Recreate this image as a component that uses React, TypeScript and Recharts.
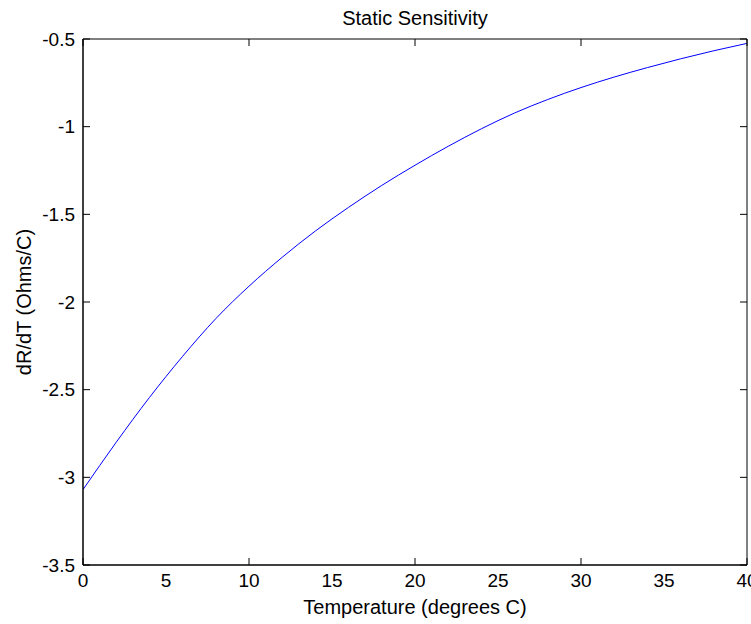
import React from 'react';
import { LineChart, Line, XAxis, YAxis } from 'recharts';

const temperatures = [0, 2, 4, 6, 8, 10, 12, 14, 16, 18, 20, 22, 24, 26, 28, 30, 32, 34, 36, 38, 40];
const sensitivity = [-3.07, -2.8, -2.545, -2.31, -2.095, -1.91, -1.745, -1.595, -1.46, -1.335, -1.22, -1.112, -1.012, -0.922, -0.845, -0.777, -0.717, -0.663, -0.613, -0.567, -0.525];
const xTicks = [0, 5, 10, 15, 20, 25, 30, 35, 40];
const yTicks = [-3.5, -3, -2.5, -2, -1.5, -1, -0.5];

const data = temperatures.map((t, i) => ({ t, v: sensitivity[i] }));

const FONT = '"Liberation Sans", Arial, sans-serif';
const tickStyle = { fill: '#000', fontSize: 19, fontFamily: FONT };
const labelStyle = { fill: '#000', fontSize: 20, fontFamily: FONT };
const NoLabel = () => <g />;

export default function App() {
  return (
    <div style={{ position: 'absolute', left: 0, top: 0, width: 751, height: 624, background: '#fff' }}>
      <LineChart width={751} height={624} data={data} margin={{ top: 39, right: 4, bottom: 0, left: 0 }}>
        {/* label axes */}
        <XAxis
          dataKey="t"
          type="number"
          domain={[0, 40]}
          ticks={xTicks}
          interval={0}
          height={59}
          stroke="#000"
          tickLine={false}
          tickSize={0}
          tickMargin={9}
          tick={tickStyle}
          allowDataOverflow
          label={{ value: 'Temperature (degrees C)', position: 'insideBottom', offset: 10, style: labelStyle }}
        />
        <YAxis
          type="number"
          domain={[-3.5, -0.5]}
          ticks={yTicks}
          interval={0}
          width={83}
          stroke="#000"
          tickLine={false}
          tickSize={0}
          tickMargin={8}
          tick={tickStyle}
          allowDataOverflow
          label={{ value: 'dR/dT (Ohms/C)', angle: -90, position: 'insideLeft', offset: 24, style: { ...labelStyle, textAnchor: 'middle' } }}
        />
        {/* inward tick axes */}
        <XAxis
          xAxisId="bt"
          orientation="bottom"
          mirror
          type="number"
          domain={[0, 40]}
          ticks={xTicks}
          interval={0}
          stroke="#000"
          tickSize={7}
          tick={NoLabel}
        />
        <YAxis
          yAxisId="lt"
          orientation="left"
          mirror
          type="number"
          domain={[-3.5, -0.5]}
          ticks={yTicks}
          interval={0}
          stroke="#000"
          tickSize={7}
          tick={NoLabel}
        />
        <XAxis
          xAxisId="top"
          orientation="top"
          mirror
          type="number"
          domain={[0, 40]}
          ticks={xTicks}
          interval={0}
          stroke="#000"
          tickSize={7}
          tick={NoLabel}
          label={{ value: 'Static Sensitivity', position: 'top', offset: 14, style: labelStyle }}
        />
        <YAxis
          yAxisId="right"
          orientation="right"
          mirror
          type="number"
          domain={[-3.5, -0.5]}
          ticks={yTicks}
          interval={0}
          stroke="#000"
          tickSize={7}
          tick={NoLabel}
        />
        <Line
          xAxisId="bt"
          yAxisId="lt"
          type="monotone"
          dataKey="v"
          stroke="none"
          strokeOpacity={0}
          dot={false}
          activeDot={false}
          isAnimationActive={false}
        />
        <Line
          xAxisId="top"
          yAxisId="right"
          type="monotone"
          dataKey="v"
          stroke="none"
          strokeOpacity={0}
          dot={false}
          activeDot={false}
          isAnimationActive={false}
        />
        <Line
          type="monotone"
          dataKey="v"
          stroke="#0000ff"
          strokeWidth={1}
          dot={false}
          isAnimationActive={false}
        />
      </LineChart>
    </div>
  );
}
